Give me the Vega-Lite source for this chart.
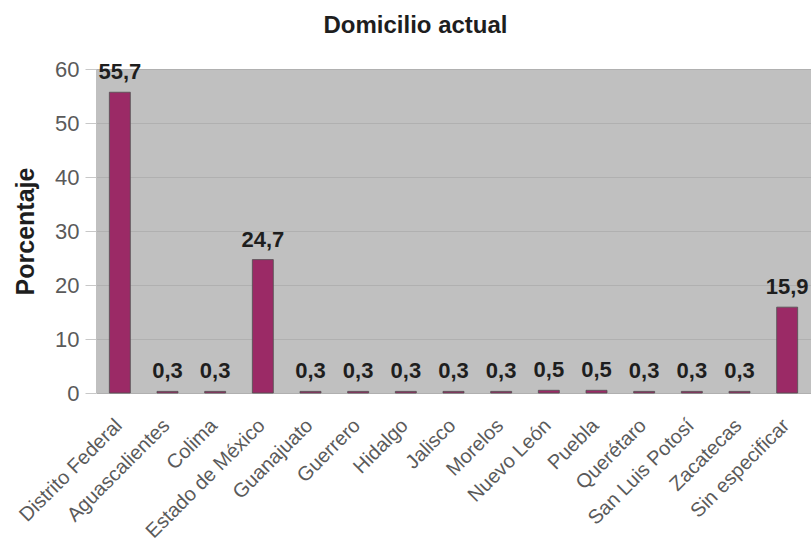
{
  "$schema": "https://vega.github.io/schema/vega-lite/v6.json",
  "autosize": "none",
  "width": 715,
  "height": 324,
  "padding": {"left": 96, "top": 69, "right": 0, "bottom": 159},
  "background": "white",
  "title": {
    "text": "Domicilio actual",
    "anchor": "middle",
    "dx": -38,
    "fontSize": 24,
    "fontWeight": "bold",
    "font": "Liberation Sans",
    "color": "#1e1e1e",
    "offset": 20
  },
  "config": {
    "locale": {
      "number": {"decimal": ",", "thousands": ".", "grouping": [3], "currency": ["", " €"]}
    },
    "view": {"fill": "#c0c0c0", "stroke": null},
    "font": "Liberation Sans"
  },
  "data": {
    "values": [
      {"estado": "Distrito Federal", "porcentaje": 55.7},
      {"estado": "Aguascalientes", "porcentaje": 0.3},
      {"estado": "Colima", "porcentaje": 0.3},
      {"estado": "Estado de México", "porcentaje": 24.7},
      {"estado": "Guanajuato", "porcentaje": 0.3},
      {"estado": "Guerrero", "porcentaje": 0.3},
      {"estado": "Hidalgo", "porcentaje": 0.3},
      {"estado": "Jalisco", "porcentaje": 0.3},
      {"estado": "Morelos", "porcentaje": 0.3},
      {"estado": "Nuevo León", "porcentaje": 0.5},
      {"estado": "Puebla", "porcentaje": 0.5},
      {"estado": "Querétaro", "porcentaje": 0.3},
      {"estado": "San Luis Potosí", "porcentaje": 0.3},
      {"estado": "Zacatecas", "porcentaje": 0.3},
      {"estado": "Sin especificar", "porcentaje": 15.9}
    ]
  },
  "encoding": {
    "x": {
      "field": "estado",
      "type": "nominal",
      "sort": null,
      "scale": {"paddingInner": 0.56, "paddingOuter": 0.28},
      "axis": {
        "title": null,
        "labelAngle": -45,
        "labelFontSize": 20,
        "labelColor": "#5a5a5a",
        "labelPadding": 22,
        "labelOffset": -8,
        "ticks": false,
        "domain": false,
        "labelOverlap": false,
        "labelLimit": 300
      }
    },
    "y": {
      "field": "porcentaje",
      "type": "quantitative",
      "scale": {"domain": [0, 60], "nice": false},
      "axis": {
        "title": "Porcentaje",
        "titleFontSize": 25,
        "titleFontWeight": "bold",
        "titleColor": "#1e1e1e",
        "titlePadding": 16,
        "values": [0, 10, 20, 30, 40, 50, 60],
        "labelFontSize": 22,
        "labelColor": "#5a5a5a",
        "labelPadding": 6,
        "tickSize": 11,
        "tickColor": "#c8c8c8",
        "gridColor": "#b0b0b0",
        "gridWidth": 1,
        "domain": false
      }
    }
  },
  "layer": [
    {
      "mark": {"type": "bar", "color": "#9b2a66", "stroke": "#505050", "strokeWidth": 0.8}
    },
    {
      "mark": {
        "type": "text",
        "baseline": "alphabetic",
        "dy": -13,
        "fontSize": 22,
        "fontWeight": "bold",
        "color": "#1e1e1e"
      },
      "encoding": {
        "text": {"field": "porcentaje", "type": "quantitative", "format": ".1f"}
      }
    }
  ]
}
